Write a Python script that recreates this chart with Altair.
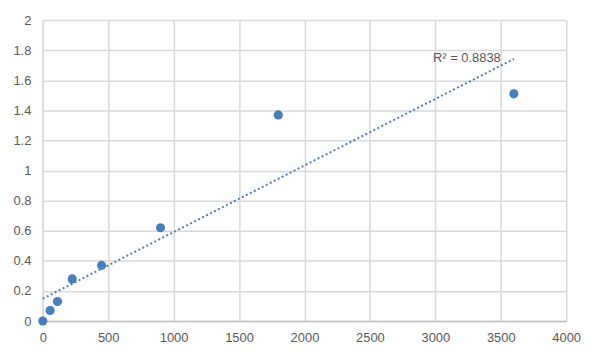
import altair as alt
import pandas as pd

concentration = [0, 56.25, 112.5, 225, 450, 900, 1800, 3600]
od_value = [0.0, 0.07, 0.13, 0.28, 0.37, 0.62, 1.37, 1.51]
r2_label = "R² = 0.8838"
x_ticks = [0, 500, 1000, 1500, 2000, 2500, 3000, 3500, 4000]
y_ticks = [0, 0.2, 0.4, 0.6, 0.8, 1.0, 1.2, 1.4, 1.6, 1.8, 2.0]

df = pd.DataFrame({"x": concentration, "y": od_value})
lab = pd.DataFrame({"x": [3500], "y": [1.745], "t": [r2_label]})

FONT = "Liberation Sans"
GREY = "#595959"
BLUE = "#4a7ebb"

xs = alt.Scale(domain=[0, 4000], nice=False)
ys = alt.Scale(domain=[0, 2], nice=False)

xaxis = alt.Axis(values=x_ticks, grid=True, gridColor="#d9d9d9", gridWidth=1.5,
                 domainColor="#bfbfbf", domainWidth=1.5, ticks=False, labelPadding=11,
                 labelColor=GREY, labelFont=FONT, labelFontSize=13, title=None,
                 labelFlush=False, labelOverlap=False, format="d")
yaxis = alt.Axis(values=y_ticks, grid=True, gridColor="#d9d9d9", gridWidth=1.5,
                 domainColor="#d9d9d9", domainWidth=1.5, ticks=False, labelPadding=12,
                 labelColor=GREY, labelFont=FONT, labelFontSize=13, title=None,
                 labelFlush=False, labelOverlap=False, format="~g")

X = alt.X("x:Q", scale=xs, axis=xaxis)
Y = alt.Y("y:Q", scale=ys, axis=yaxis)

base = alt.Chart(df)

trend = base.transform_regression("x", "y", extent=[0, 3600]).mark_line(
    color=BLUE, strokeDash=[2, 2.5], strokeWidth=2
).encode(x=X, y=Y)

pts = base.mark_circle(size=85, color=BLUE, opacity=1).encode(x=X, y=Y)

txt = alt.Chart(lab).mark_text(align="right", baseline="middle", font=FONT,
                               fontSize=13, color=GREY).encode(x=X, y=Y, text="t:N")

chart = alt.layer(trend, pts, txt).properties(
    width=527, height=303,
    autosize=alt.AutoSizeParams(type="none"),
    padding={"left": 35, "top": 11, "right": 26, "bottom": 33},
).configure_view(stroke=None).configure(background="white")

chart.save("out.html", embed_options={"renderer": "svg", "actions": False})
